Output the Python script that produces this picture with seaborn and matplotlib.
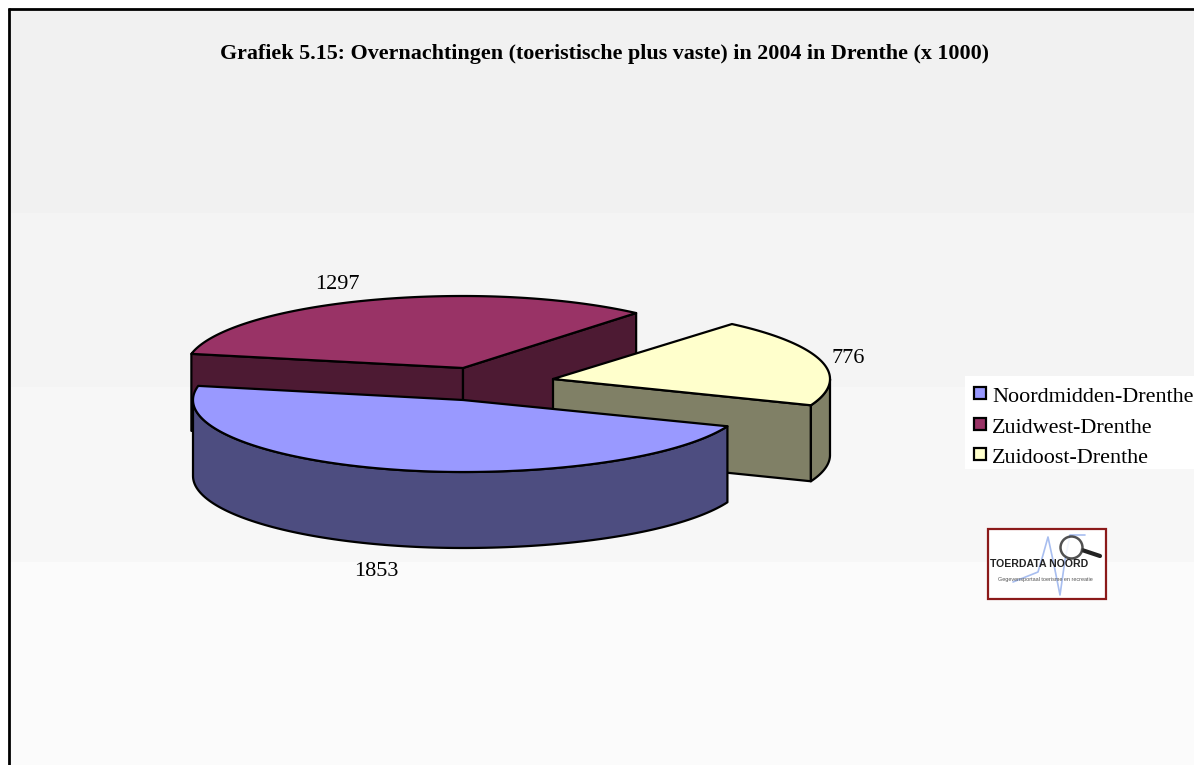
import numpy as np
import matplotlib
matplotlib.use("Agg")
import matplotlib.pyplot as plt
import seaborn as sns
from matplotlib.patches import Rectangle, Polygon

categories = ["Noordmidden-Drenthe", "Zuidwest-Drenthe", "Zuidoost-Drenthe"]
values = [1853, 1297, 776]
title = "Grafiek 5.15: Overnachtingen (toeristische plus vaste) in 2004 in Drenthe (x 1000)"

sns.set_theme(style="white")
plt.rcParams["font.family"] = ["Liberation Serif", "DejaVu Serif"]

top_colors = ["#9999FF", "#993366", "#FFFFCC"]
side_colors = ["#4D4D80", "#4D1A33", "#808066"]

fig = plt.figure(figsize=(11.94, 7.65), dpi=100, facecolor="white")
ax = fig.add_axes([0, 0, 1, 1])
ax.set_xlim(0, 1194)
ax.set_ylim(765, 0)
ax.axis("off")

# Chart area: banded grey background with a frame on top and left
bands = [(9, 213, "#F1F1F1"), (213, 387, "#F4F4F4"), (387, 562, "#F7F7F7"), (562, 765, "#FBFBFB")]
for y0, y1, c in bands:
    ax.add_patch(Rectangle((10, y0), 1184, y1 - y0, fc=c, ec="none", zorder=0))
ax.plot([9, 9], [765, 8], color="black", lw=2.0, zorder=1, solid_capstyle="butt")
ax.plot([8, 1194], [8.5, 8.5], color="black", lw=2.0, zorder=1, solid_capstyle="butt")

# Slice angles follow from the values, clockwise from the first-slice angle
fractions = np.array(values, dtype=float) / np.sum(values)
first_angle = -21.4
ends = first_angle - 360 * np.cumsum(fractions)
starts = np.concatenate([[first_angle], ends[:-1]])

# Projection of each exploded slice: apex, left/right semi-axis, semi-minor axis, depth
proj = [
    dict(cx=463, cy=400, al=270, ar=284, b=72, d=76),
    dict(cx=463, cy=368, al=277, ar=268, b=72, d=77),
    dict(cx=553, cy=379, al=275, ar=277, b=72, d=76),
]


def ell(p, t_deg):
    t = np.radians(np.asarray(t_deg, dtype=float))
    c = np.cos(t)
    return p["cx"] + np.where(c < 0, p["al"], p["ar"]) * c, p["cy"] - p["b"] * np.sin(t)


EDGE = dict(ec="black", lw=1.6, joinstyle="round")


def face(pts, color, z):
    ax.add_patch(Polygon(np.array(pts), closed=True, fc=color, zorder=z, **EDGE))


def outer_side(p, t0, t1, color, z):
    ts = np.linspace(t0, t1, 120)
    x, y = ell(p, ts)
    pts = list(zip(x, y)) + list(zip(x[::-1], y[::-1] + p["d"]))
    face(pts, color, z)


def cut_face(p, t, color, z):
    x, y = ell(p, t)
    cx, cy, d = p["cx"], p["cy"], p["d"]
    face([(cx, cy), (float(x), float(y)), (float(x), float(y) + d), (cx, cy + d)], color, z)


def top(p, t0, t1, color, z):
    ts = np.linspace(t0, t1, 200)
    x, y = ell(p, ts)
    face([(p["cx"], p["cy"])] + list(zip(x, y)), color, z)


# Zuidwest (back): both cut faces, then top
p = proj[1]
cut_face(p, starts[1], side_colors[1], 2)
cut_face(p, ends[1], side_colors[1], 2)
top(p, starts[1], ends[1], top_colors[1], 3)

# Zuidoost (right): cut face, rim, top
p = proj[2]
cut_face(p, ends[2], side_colors[2], 4)
outer_side(p, 0, first_angle, side_colors[2], 4)
top(p, starts[2], ends[2], top_colors[2], 5)

# Noordmidden (front): rim, top
p = proj[0]
outer_side(p, starts[0], -180, side_colors[0], 6)
top(p, starts[0], ends[0], top_colors[0], 7)

# Data labels
label_pos = [(376.5, 571), (337, 284.5), (848, 358.5)]
for v, (x, y) in zip(values, label_pos):
    ax.text(x, y, str(v), ha="center", va="center", fontsize=16, color="black", zorder=9)

ax.text(604.5, 53.5, title, ha="center", va="center", fontsize=15.85, fontweight="bold", color="black", zorder=9)

# Legend
ax.add_patch(Rectangle((965, 376), 229, 93, fc="white", ec="none", zorder=8))
legend_y = [393, 424, 454]
for name, c, y in zip(categories, top_colors, legend_y):
    ax.add_patch(Rectangle((974, y - 6), 12, 12, fc=c, ec="black", lw=1.6, zorder=9))
    ax.text(992, y + 4, name, ha="left", va="center", fontsize=15.9, color="black", zorder=9)

# Logo
ax.add_patch(Rectangle((987.5, 528.5), 118, 70, fc="white", ec="#8B1A1A", lw=1.6, zorder=8))
sq_x = [1013, 1038, 1043, 1048, 1054, 1060, 1065, 1070, 1085]
sq_y = [582, 572, 555, 537, 565, 595, 560, 535, 535]
ax.plot(sq_x, sq_y, color="#A8BEF0", lw=1.2, zorder=9)
ax.plot([1082, 1100], [550, 556], color="#222222", lw=3, zorder=10, solid_capstyle="round")
ax.scatter([1071], [547], s=250, fc="white", ec="#333333", lw=1.8, zorder=10, alpha=0.85)
ax.text(1039, 564, "TOERDATA NOORD", ha="center", va="center", fontsize=7.6, family="Liberation Sans",
        fontweight="bold", color="#222222", zorder=11)
ax.text(1045, 579, "Gegevensportaal toerisme en recreatie", ha="center", va="center", fontsize=4,
        family="Liberation Sans", color="#555555", zorder=11)

fig.savefig("out.png", dpi=100, facecolor="white")
